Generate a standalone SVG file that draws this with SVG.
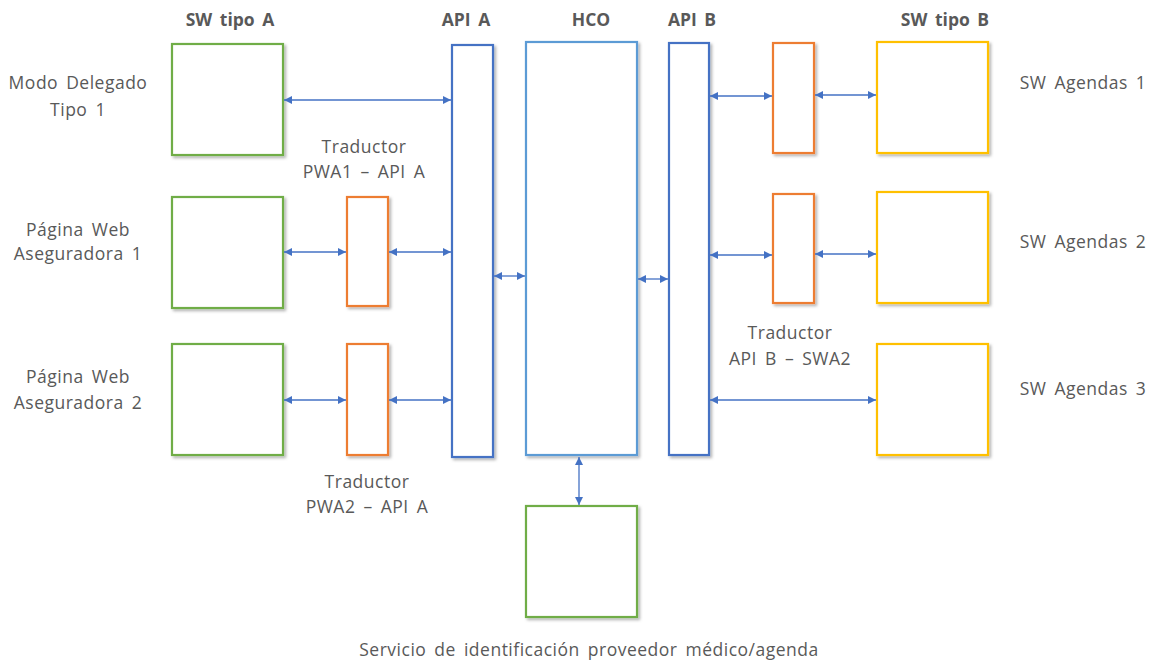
<svg xmlns="http://www.w3.org/2000/svg" width="1157" height="660" viewBox="0 0 1157 660">
<style>
.box{fill:#fff;stroke-width:2.2;filter:url(#sh)}
.g{stroke:#70AD47}.o{stroke:#ED7D31}.b{stroke:#4472C4}.lb{stroke:#5B9BD5}.y{stroke:#FFC000}
.t{font-family:"Open Sans","Liberation Sans",sans-serif;font-size:17.5px;letter-spacing:0.5px;word-spacing:3px;fill:#595959;text-anchor:middle}
.h{font-family:"Open Sans","Liberation Sans",sans-serif;font-size:17.5px;font-weight:bold;word-spacing:3px;fill:#595959;text-anchor:middle}
.c{stroke:#4472C4;stroke-width:1.3;fill:none;marker-start:url(#as);marker-end:url(#ae)}
</style>
<defs>
<filter id="sh" x="-10%" y="-10%" width="130%" height="130%">
<feDropShadow dx="2" dy="2" stdDeviation="1.5" flood-color="#000" flood-opacity="0.3"/>
</filter>
<marker id="ae" viewBox="0 0 10 10" refX="10" refY="5" markerWidth="8" markerHeight="8" markerUnits="userSpaceOnUse" orient="auto"><path d="M0,0 L10,5 L0,10 Z" fill="#4472C4"/></marker>
<marker id="as" viewBox="0 0 10 10" refX="0" refY="5" markerWidth="8" markerHeight="8" markerUnits="userSpaceOnUse" orient="auto"><path d="M10,0 L0,5 L10,10 Z" fill="#4472C4"/></marker>
</defs>
<rect width="1157" height="660" fill="#fff"/>

<g id="headings">
<text class="h" x="230" y="26">SW tipo A</text>
<text class="h" x="466" y="26">API A</text>
<text class="h" x="591" y="26">HCO</text>
<text class="h" x="692" y="26">API B</text>
<text class="h" x="945" y="26">SW tipo B</text>
</g>

<g id="swa1"><rect class="box g" x="172" y="44" width="111" height="111"/></g>
<g id="pwa1"><rect class="box g" x="172" y="197" width="111" height="111"/></g>
<g id="pwa2"><rect class="box g" x="172" y="344" width="111" height="111"/></g>
<g id="trad1"><rect class="box o" x="347" y="197" width="41" height="109"/></g>
<g id="trad2"><rect class="box o" x="347" y="344" width="41" height="111"/></g>
<g id="apia"><rect class="box b" x="452" y="45" width="41" height="412"/></g>
<g id="hco"><rect class="box lb" x="526" y="42" width="111" height="413"/></g>
<g id="apib"><rect class="box b" x="669" y="43" width="40" height="412"/></g>
<g id="trad3"><rect class="box o" x="773" y="43" width="41" height="110"/></g>
<g id="trad4"><rect class="box o" x="773" y="194" width="41" height="109"/></g>
<g id="swb1"><rect class="box y" x="877" y="42" width="111" height="111"/></g>
<g id="swb2"><rect class="box y" x="877" y="192" width="111" height="111"/></g>
<g id="swb3"><rect class="box y" x="877" y="344" width="111" height="111"/></g>
<g id="ident"><rect class="box g" x="526" y="506" width="111" height="111"/></g>

<g id="connectors">
<line class="c" x1="284" y1="100" x2="451" y2="100"/>
<line class="c" x1="284" y1="252" x2="346" y2="252"/>
<line class="c" x1="389" y1="252" x2="451" y2="252"/>
<line class="c" x1="284" y1="400" x2="346" y2="400"/>
<line class="c" x1="389" y1="400" x2="451" y2="400"/>
<line class="c" x1="494" y1="276" x2="525" y2="276"/>
<line class="c" x1="638" y1="279" x2="668" y2="279"/>
<line class="c" x1="710" y1="96" x2="772" y2="96"/>
<line class="c" x1="815" y1="95" x2="876" y2="95"/>
<line class="c" x1="710" y1="255" x2="772" y2="255"/>
<line class="c" x1="815" y1="254" x2="876" y2="254"/>
<line class="c" x1="710" y1="400" x2="876" y2="400"/>
<line class="c" x1="579" y1="457" x2="579" y2="505"/>
</g>

<g id="labels">
<text class="t" x="78" y="89">Modo Delegado</text>
<text class="t" x="78" y="116">Tipo 1</text>
<text class="t" x="78" y="236">Página Web</text>
<text class="t" x="78" y="260">Aseguradora 1</text>
<text class="t" x="78" y="383">Página Web</text>
<text class="t" x="78" y="409">Aseguradora 2</text>
<text class="t" x="364" y="153">Traductor</text>
<text class="t" x="364" y="178">PWA1 – API A</text>
<text class="t" x="367" y="488">Traductor</text>
<text class="t" x="367" y="513">PWA2 – API A</text>
<text class="t" x="790" y="339">Traductor</text>
<text class="t" x="790" y="365">API B – SWA2</text>
<text class="t" x="1083" y="89">SW Agendas 1</text>
<text class="t" x="1083" y="248">SW Agendas 2</text>
<text class="t" x="1083" y="395">SW Agendas 3</text>
<text class="t" x="589" y="656">Servicio de identificación proveedor médico/agenda</text>
</g>
</svg>
